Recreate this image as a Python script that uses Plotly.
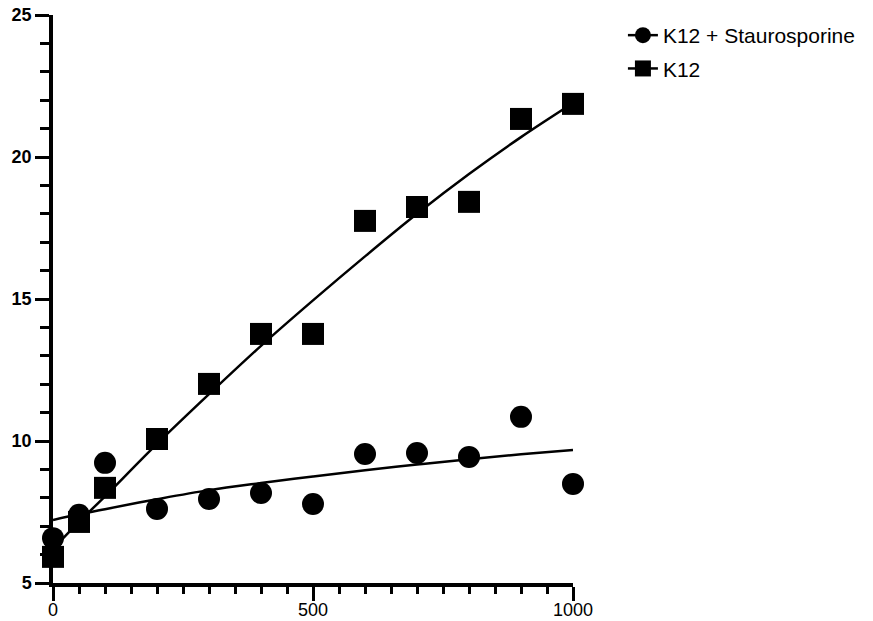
import plotly.graph_objects as go

# Data
x_vals = [0, 50, 100, 200, 300, 400, 500, 600, 700, 800, 900, 1000]
stauro_y = [6.58, 7.4, 9.23, 7.61, 7.96, 8.17, 7.78, 9.54, 9.58, 9.44, 10.85, 8.49]
k12_y = [5.92, 7.15, 8.35, 10.07, 12.01, 13.77, 13.77, 17.75, 18.24, 18.42, 21.34, 21.87]

# Fitted curves
fit_x = [0, 50, 100, 200, 300, 400, 500, 600, 700, 800, 900, 1000]
stauro_fit = [7.22, 7.42, 7.6, 7.95, 8.27, 8.52, 8.75, 8.97, 9.17, 9.36, 9.53, 9.68]
k12_fit = [6.2, 7.15, 8.05, 9.9, 11.65, 13.35, 14.95, 16.5, 18.0, 19.4, 20.7, 21.9]

names = ["K12 + Staurosporine", "K12"]

fig = go.Figure()

# fit lines
for fy in (stauro_fit, k12_fit):
    fig.add_trace(go.Scatter(x=fit_x, y=fy, mode="lines", line=dict(color="black", width=2.5, shape="spline"),
                             showlegend=False, hoverinfo="skip", cliponaxis=False))

# data points
fig.add_trace(go.Scatter(x=x_vals, y=stauro_y, mode="markers", marker=dict(symbol="circle", size=22, color="black"),
                         showlegend=False, cliponaxis=False))
fig.add_trace(go.Scatter(x=x_vals, y=k12_y, mode="markers", marker=dict(symbol="square", size=22, color="black"),
                         showlegend=False, cliponaxis=False))

# legend entries
for nm, sym in zip(names, ["circle", "square"]):
    fig.add_trace(go.Scatter(x=[None], y=[None], mode="lines+markers", name=nm, legendgroup=nm,
                             marker=dict(symbol=sym, size=22, color="black"),
                             line=dict(color="black", width=2.5)))

fig.update_layout(
    width=865, height=613,
    margin=dict(l=45, r=300, t=7, b=38, autoexpand=False),
    paper_bgcolor="white", plot_bgcolor="white",
    font=dict(family="Liberation Sans, Arial, sans-serif", color="black"),
    legend=dict(x=1.096, y=1.0, xanchor="left", yanchor="top", font=dict(size=21),
                bgcolor="rgba(0,0,0,0)", itemwidth=30, tracegroupgap=3),
    xaxis=dict(range=[0, 1000], showgrid=False, zeroline=False, showline=True, linecolor="black", linewidth=3.5,
               automargin=False, ticklabeloverflow="allow", ticklabelstandoff=-6,
               ticks="outside", ticklen=14, tickwidth=3, tickcolor="black",
               tickvals=[0, 500, 1000], tickfont=dict(size=18, color="black"),
               minor=dict(dtick=50, ticks="outside", ticklen=7, tickwidth=3, tickcolor="black")),
    yaxis=dict(range=[5, 25], showgrid=False, zeroline=False, showline=True, linecolor="black", linewidth=3.5,
               automargin=False, ticklabeloverflow="allow",
               ticks="outside", ticklen=14, tickwidth=3, tickcolor="black",
               tickvals=[5, 10, 15, 20, 25], tickfont=dict(size=18, color="black", weight="bold"),
               minor=dict(dtick=1, ticks="outside", ticklen=9, tickwidth=3, tickcolor="black")),
)

fig.write_html("out.html")
